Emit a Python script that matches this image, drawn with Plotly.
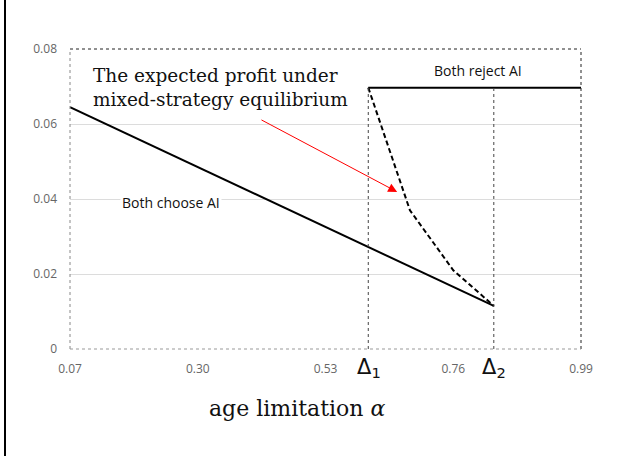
import plotly.graph_objects as go

# ---- data ----
x_ticks = [0.07, 0.30, 0.53, 0.76, 0.99]
x_tick_labels = ["0.07", "0.30", "0.53", "0.76", "0.99"]
y_ticks = [0, 0.02, 0.04, 0.06, 0.08]
y_tick_labels = ["0", "0.02", "0.04", "0.06", "0.08"]

delta1 = 0.607
delta2 = 0.833

choose_x = [0.07, delta2]
choose_y = [0.0645, 0.0115]

reject_x = [delta1, 0.99]
reject_y = [0.0697, 0.0697]

mixed_x = [delta1, 0.682, 0.76, delta2]
mixed_y = [0.0697, 0.037, 0.021, 0.0115]

arrow_tail = (0.412, 0.0613)
arrow_head = (0.659, 0.0419)

fig = go.Figure()
fig.add_trace(go.Scatter(x=choose_x, y=choose_y, mode="lines",
                         line=dict(color="black", width=2), showlegend=False))
fig.add_trace(go.Scatter(x=reject_x, y=reject_y, mode="lines",
                         line=dict(color="black", width=2), showlegend=False))
fig.add_trace(go.Scatter(x=mixed_x, y=mixed_y, mode="lines",
                         line=dict(color="black", width=2, dash="5px,3px"), showlegend=False))

shapes = []
# plot border (dotted)
shapes.append(dict(type="line", xref="paper", yref="paper", x0=0, x1=1, y0=1, y1=1,
                   line=dict(color="#222", width=1, dash="dot")))
shapes.append(dict(type="line", xref="paper", yref="paper", x0=1, x1=1, y0=0, y1=1,
                   line=dict(color="#222", width=1, dash="dot")))
shapes.append(dict(type="line", xref="paper", yref="paper", x0=0, x1=0, y0=0, y1=1,
                   line=dict(color="#888", width=1, dash="dot")))
shapes.append(dict(type="line", xref="paper", yref="paper", x0=0, x1=1, y0=0, y1=0,
                   line=dict(color="#999", width=1, dash="dot")))
# delta verticals
for d in (delta1, delta2):
    shapes.append(dict(type="line", xref="x", yref="y", x0=d, x1=d, y0=0, y1=reject_y[0],
                       line=dict(color="#444", width=1, dash="dot")))
# left outer black border
shapes.append(dict(type="line", xref="paper", yref="paper", x0=-0.1272, x1=-0.1272,
                   y0=-0.4, y1=1.2, line=dict(color="black", width=2)))

annotations = [
    dict(x=arrow_head[0], y=arrow_head[1], ax=arrow_tail[0], ay=arrow_tail[1],
         xref="x", yref="y", axref="x", ayref="y", text="", showarrow=True,
         arrowhead=2, arrowsize=1.8, arrowwidth=1, arrowcolor="red"),
    dict(x=0.108, y=0.0762, xref="x", yref="y", xanchor="left", yanchor="top", align="left",
         text="The expected profit under<br>mixed-strategy equilibrium", showarrow=False,
         font=dict(family="DejaVu Serif", size=18.5, color="#111")),
    dict(x=0.252, y=0.0392, xref="x", yref="y", xanchor="center", yanchor="middle",
         text="Both choose AI", showarrow=False, bgcolor="white",
         font=dict(family="Open Sans", size=14, color="#111")),
    dict(x=0.805, y=0.0744, xref="x", yref="y", xanchor="center", yanchor="middle",
         text="Both reject AI", showarrow=False,
         font=dict(family="Open Sans", size=14, color="#111")),
    dict(x=(369 - 70) / 511, y=(349 - 368) / 300, xref="paper", yref="paper",
         xanchor="center", yanchor="middle",
         text="Δ<sub>1</sub>", showarrow=False,
         font=dict(family="DejaVu Sans", size=21, color="#111")),
    dict(x=(494 - 70) / 511, y=(349 - 368) / 300, xref="paper", yref="paper",
         xanchor="center", yanchor="middle",
         text="Δ<sub>2</sub>", showarrow=False,
         font=dict(family="DejaVu Sans", size=21, color="#111")),
    dict(x=(297 - 70) / 511, y=(349 - 408) / 300, xref="paper", yref="paper",
         xanchor="center", yanchor="middle",
         text="age limitation <i>α</i>", showarrow=False,
         font=dict(family="DejaVu Serif", size=22, color="#111")),
]

fig.update_layout(
    width=621, height=456,
    margin=dict(l=70, r=40, t=49, b=107),
    paper_bgcolor="white", plot_bgcolor="white",
    shapes=shapes, annotations=annotations,
    xaxis=dict(range=[0.07, 0.99], tickvals=x_ticks, ticktext=x_tick_labels,
               showgrid=False, zeroline=False, showline=False, ticks="",
               ticklabelstandoff=11,
               tickfont=dict(family="Open Sans", size=12, color="#666")),
    yaxis=dict(range=[0, 0.08], tickvals=y_ticks, ticktext=y_tick_labels,
               showgrid=True, gridcolor="#dcdcdc", gridwidth=1, zeroline=False,
               showline=False, ticks="", ticklabelstandoff=12,
               tickfont=dict(family="Open Sans", size=12, color="#666")),
)

fig.write_html("out.html", config={"displayModeBar": False},
               post_script="document.body.style.margin='0';document.body.style.padding='0';")
